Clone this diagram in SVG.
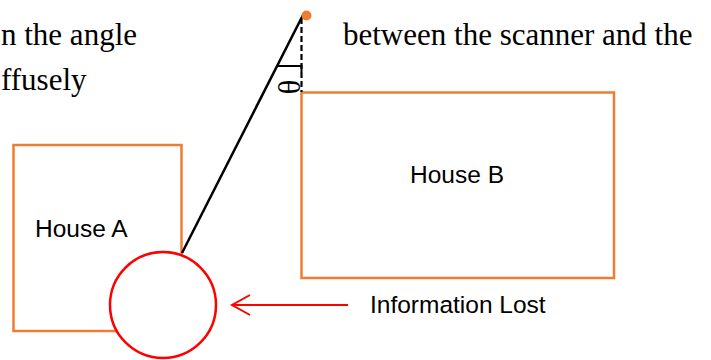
<svg xmlns="http://www.w3.org/2000/svg" width="711" height="360" viewBox="0 0 711 360">
<style>
.serif{font-family:"Liberation Serif","Times New Roman",serif;font-size:31px;fill:#000}
.sans{font-family:"Liberation Sans",Arial,sans-serif;font-size:24.5px;fill:#000}
.house{fill:#fff;stroke:#ED7D31;stroke-width:2.5}
</style>
<rect width="711" height="360" fill="#fff"/>
<text class="serif" x="1" y="45">n the angle</text>
<text class="serif" x="1" y="90">ffusely</text>
<text class="serif" x="343" y="45">between the scanner and the</text>
<g id="houseA">
<rect class="house" x="13.5" y="145" width="168" height="186"/>
<text class="sans" x="35" y="237">House A</text>
</g>
<g id="houseB">
<rect class="house" x="301.5" y="92.5" width="312.5" height="185.5"/>
<text class="sans" x="410" y="183">House B</text>
</g>
<g id="connectors">
<line x1="303" y1="15" x2="182" y2="253" stroke="#000" stroke-width="2.5"/>
<line x1="301.5" y1="18" x2="301.5" y2="92" stroke="#000" stroke-width="2.2" stroke-dasharray="6,3"/>
<polyline points="278,66 301.5,66 301.5,72" fill="none" stroke="#000" stroke-width="2"/>
<line x1="348" y1="305" x2="232" y2="305" stroke="#FF0000" stroke-width="2"/>
<polyline points="250,295 232,305 250,315" fill="none" stroke="#FF0000" stroke-width="2"/>
</g>
<text class="serif" x="0" y="0" font-size="32" text-anchor="middle" transform="translate(300,87) rotate(-90)">θ</text>
<g id="scanner">
<circle cx="306.5" cy="15.5" r="5" fill="#ED7D31"/>
</g>
<g id="lostCircle">
<circle cx="163" cy="305" r="53" fill="#fff" stroke="#FF0000" stroke-width="2.5"/>
</g>
<g id="infoLost">
<text class="sans" x="370" y="313">Information Lost</text>
</g>
</svg>
